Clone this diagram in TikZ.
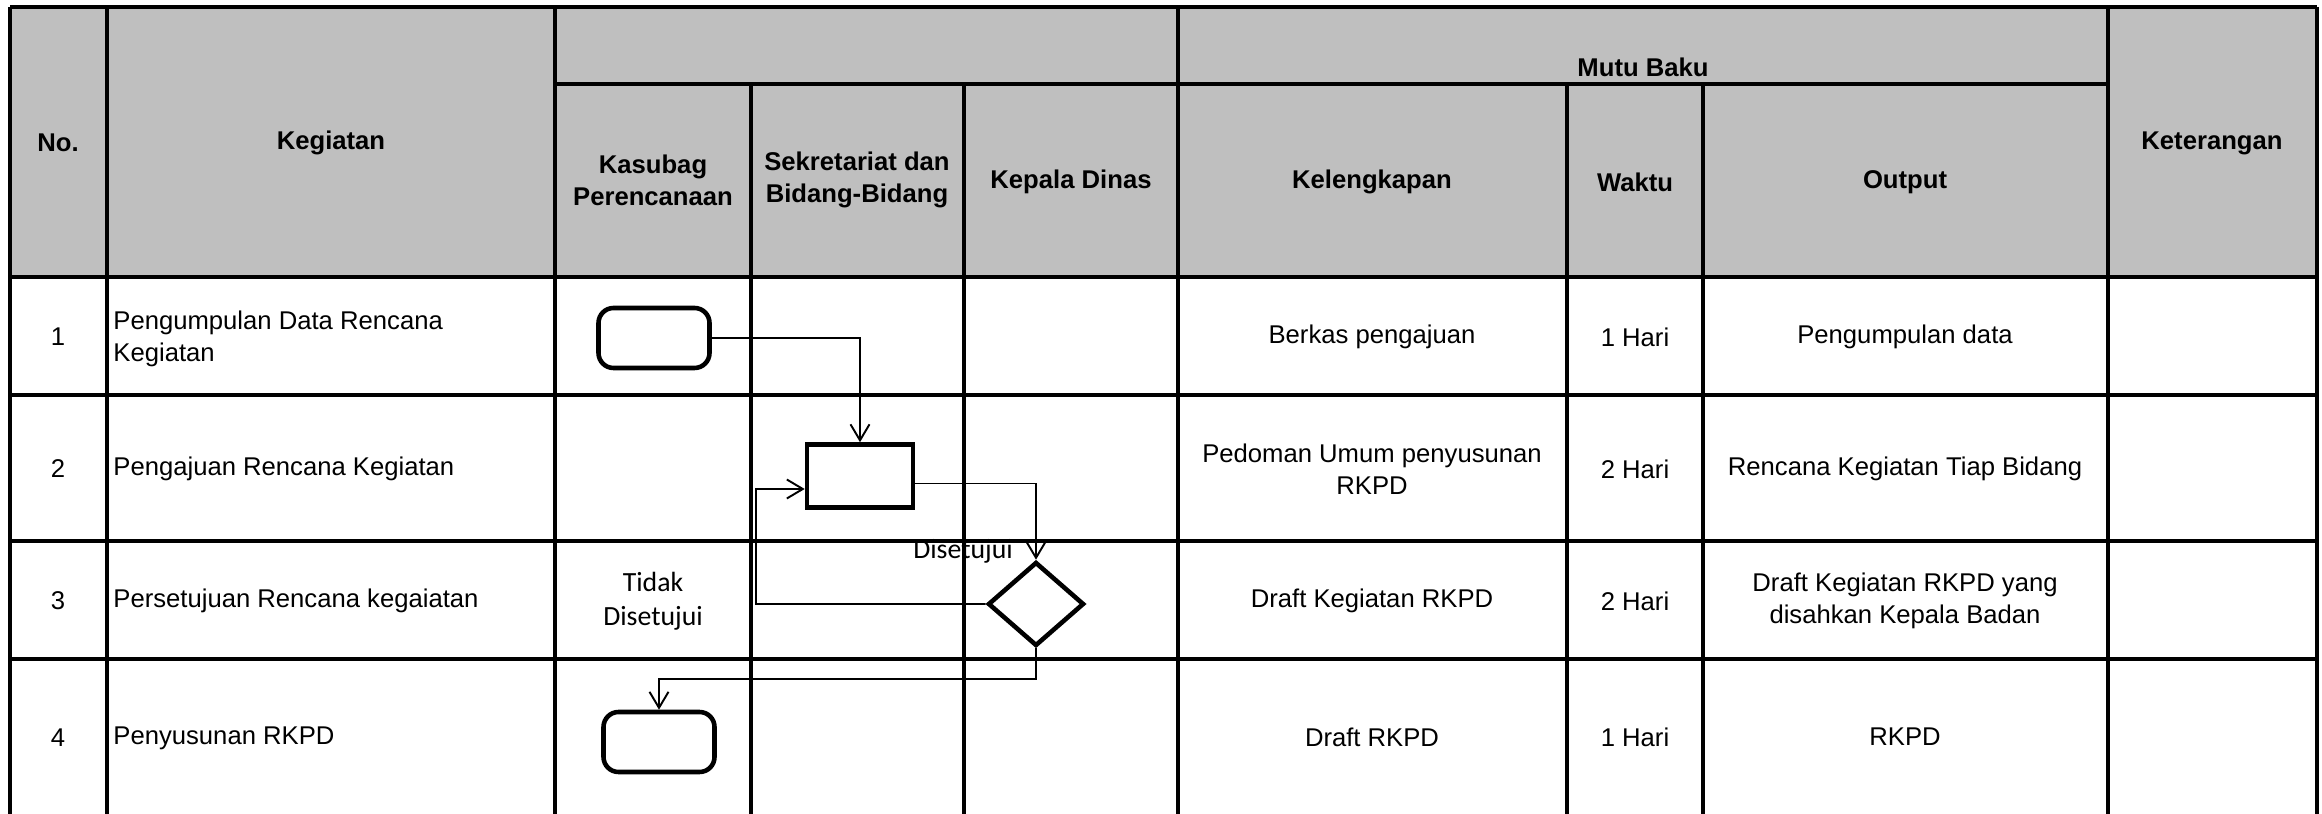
\documentclass[tikz,border=0pt]{standalone}
\usepackage{fontspec}
\setmainfont{Liberation Sans}
\newfontfamily\calibri{Carlito}
\usetikzlibrary{shapes.geometric,arrows.meta}

\definecolor{hdrgray}{RGB}{191,191,191}

\begin{document}
\begin{tikzpicture}[x=0.1mm, y=-0.1mm, font=\fontsize{7.3}{9.1}\selectfont,
    >={Straight Barb[length=1.6mm,width=1.9mm]},
    grid/.style={line width=0.9pt},
    hdr/.style={font=\fontsize{7.3}{9.1}\selectfont\bfseries, align=center},
    cell/.style={align=center},
    act/.style={draw, line width=1.3pt, rounded corners=1.5mm, minimum width=11.1mm, minimum height=6.0mm},
    proc/.style={draw, line width=1.3pt, minimum width=10.6mm, minimum height=6.3mm},
    dec/.style={draw, diamond, line width=1.3pt, minimum width=9.6mm, minimum height=8.4mm, inner sep=0pt},
    flow/.style={->, line width=0.55pt},
    note/.style={font=\calibri\fontsize{7.9}{9.6}\selectfont, align=center}]
    \useasboundingbox (0,0) rectangle (2322,814);
    % header background
    \fill[hdrgray] (10,7) rectangle (2317,277);
    % table lines
    \draw[grid] (10,7) -- (2317,7);
    \draw[grid] (555,84) -- (2108,84);
    \draw[grid, line width=1.1pt] (10,277) -- (2317,277);
    \draw[grid] (10,395) -- (2317,395);
    \draw[grid] (10,541) -- (2317,541);
    \draw[grid] (10,659) -- (2317,659);
    \draw[grid] (10,7) -- (10,814);
    \draw[grid] (107,7) -- (107,814);
    \draw[grid] (555,7) -- (555,814);
    \draw[grid] (751,84) -- (751,814);
    \draw[grid] (964,84) -- (964,814);
    \draw[grid] (1178,7) -- (1178,814);
    \draw[grid] (1567,84) -- (1567,814);
    \draw[grid] (1703,84) -- (1703,814);
    \draw[grid] (2108,7) -- (2108,814);
    \draw[grid] (2317,7) -- (2317,814);

    % header texts
    \node[hdr] (h_no) at (58,143) {No.};
    \node[hdr] (h_keg) at (331,143) {Kegiatan};
    \node[hdr] (h_kas) at (653,180) {Kasubag\\Perencanaan};
    \node[hdr] (h_sek) at (857,180) {Sekretariat dan\\Bidang-Bidang};
    \node[hdr] (h_kep) at (1071,182) {Kepala Dinas};
    \node[hdr] (h_mutu) at (1643,67) {Mutu Baku};
    \node[hdr] (h_kel) at (1372,182) {Kelengkapan};
    \node[hdr] (h_wak) at (1635,182) {Waktu};
    \node[hdr] (h_out) at (1905,182) {Output};
    \node[hdr] (h_ket) at (2212,143) {Keterangan};

    % rows
    \node[cell] (n_1) at (58,337) {1};
    \node[cell] (n_2) at (58,469) {2};
    \node[cell] (n_3) at (58,601) {3};
    \node[cell] (n_4) at (58,738) {4};
    \node[anchor=west, align=left] (k_1) at (101,339) {Pengumpulan Data Rencana\\Kegiatan};
    \node[anchor=west] (k_2) at (101,469) {Pengajuan Rencana Kegiatan};
    \node[anchor=west] (k_3) at (101,601) {Persetujuan Rencana kegaiatan};
    \node[anchor=west] (k_4) at (101,738) {Penyusunan RKPD};
    \node[cell] (l_1) at (1372,337) {Berkas pengajuan};
    \node[cell] (l_2) at (1372,469) {Pedoman Umum penyusunan\\RKPD};
    \node[cell] (l_3) at (1372,601) {Draft Kegiatan RKPD};
    \node[cell] (l_4) at (1372,737) {Draft RKPD};
    \node[cell] (w_1) at (1635,337) {1 Hari};
    \node[cell] (w_2) at (1635,469) {2 Hari};
    \node[cell] (w_3) at (1635,601) {2 Hari};
    \node[cell] (w_4) at (1635,737) {1 Hari};
    \node[cell] (o_1) at (1905,337) {Pengumpulan data};
    \node[cell] (o_2) at (1905,469) {Rencana Kegiatan Tiap Bidang};
    \node[cell] (o_3) at (1905,601) {Draft Kegiatan RKPD yang\\disahkan Kepala Badan};
    \node[cell] (o_4) at (1905,737) {RKPD};

    % flow shapes
    \node[act] (a_1) at (654,338) {};
    \node[proc] (p_2) at (860,476) {};
    \node[dec] (d_3) at (1036,604) {};
    \node[act] (a_4) at (659,742) {};
    \coordinate (c_back) at (756,489);
    \coordinate (c_turn) at (659,679);

    \draw[flow] (a_1.east) -| (p_2.north);
    \draw[flow] ([yshift=-0.75mm]p_2.east) -| (d_3.north);
    \draw[flow] (d_3.west) -| (c_back) -- ([yshift=-1.3mm]p_2.west);
    \draw[flow] (d_3.south) |- (c_turn) -- (a_4.north);

    \node[note, anchor=base] (yes) at (963,559) {Disetujui};
    \node[note] (no) at (653,601) {Tidak\\Disetujui};
\end{tikzpicture}
\end{document}
